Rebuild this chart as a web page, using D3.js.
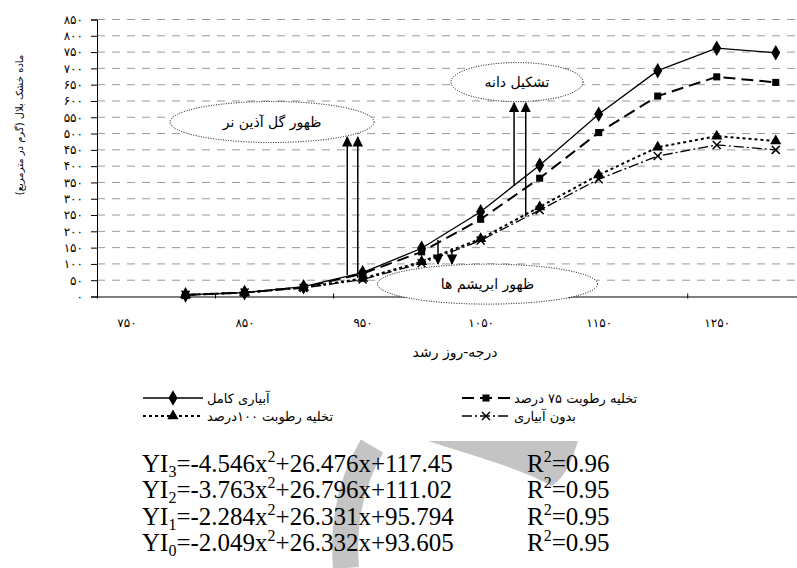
<!DOCTYPE html>
<html><head><meta charset="utf-8">
<script src="https://cdn.jsdelivr.net/npm/d3@7/dist/d3.min.js"></script>
<style>body{margin:0;background:#fff}svg{display:block}</style>
</head><body>
<svg id="c" width="797" height="568"></svg>
<script>
// ---- data ----
const gdd = [800, 850, 900, 950, 1000, 1050, 1100, 1150, 1200, 1250, 1300];
const fullIrrigation = [5, 12, 30, 73, 148, 260, 403, 559, 693, 762, 748];
const deficit75 = [5, 12, 28, 70, 137, 237, 363, 503, 615, 674, 657];
const deficit100 = [5, 12, 28, 55, 107, 177, 275, 373, 458, 492, 477];
const noIrrigation = [5, 12, 26, 52, 102, 172, 265, 360, 431, 465, 450];
const seriesNames = ["آبیاری کامل", "تخلیه رطوبت ۷۵ درصد", "تخلیه رطوبت ۱۰۰درصد", "بدون آبیاری"];
const xTickLabels = [750, 850, 950, 1050, 1150, 1250];
const yTicks = d3.range(0, 851, 50);
const xTitle = "درجه-روز رشد";
const yTitle = "ماده خشک بلال (گرم در مترمربع)";
const equations = [
  {lhs:"3", a:"-4.546", b:"+26.476x+117.45", r2:"0.96"},
  {lhs:"2", a:"-3.763", b:"+26.796x+111.02", r2:"0.95"},
  {lhs:"1", a:"-2.284", b:"+26.331x+95.794", r2:"0.95"},
  {lhs:"0", a:"-2.049", b:"+26.332x+93.605", r2:"0.95"}
];
// annotations in data units
const notes = [
  {text:"ظهور گل آذین نر", cx:873.3, cy:535.5, arrows:[{x:937, y0:66, y1:489},{x:945.9, y0:57, y1:489}]},
  {text:"تشکیل دانه", cx:1080.8, cy:658, arrows:[{x:1078.3, y0:342, y1:594},{x:1088.2, y0:245, y1:594}]},
  {text:"ظهور ابریشم ها", cx:1055.8, cy:38, arrows:[{x:1013.9, y0:173, y1:100},{x:1025.7, y0:149, y1:100}]}
];

const fa = s => String(s).replace(/[0-9]/g, d => "۰۱۲۳۴۵۶۷۸۹"[+d]);

const svg = d3.select("#c");
const x = d3.scaleLinear().domain([725, 1318]).range([97, 797]);
const y = d3.scaleLinear().domain([0, 850]).range([296.5, 19.5]);
const FA = "DejaVu Sans, sans-serif";

// gridlines
svg.append("g").selectAll("line").data(yTicks.slice(1)).join("line")
  .attr("x1", 97).attr("x2", 797).attr("y1", d => y(d)).attr("y2", d => y(d))
  .attr("stroke", "#9a9a9a").attr("stroke-width", 1).attr("stroke-dasharray", "8,7");

// y axis
const ya = svg.append("g").attr("transform", "translate(97,0)")
  .call(d3.axisLeft(y).tickValues(yTicks).tickSize(6).tickPadding(8).tickFormat(fa));
ya.select(".domain").attr("stroke", "#000");
ya.selectAll("text").attr("font-family", FA).attr("font-size", 12).attr("fill", "#000");

// x axis: tick marks between, labels offset
const xa = svg.append("g").attr("transform", "translate(0,296.5)")
  .call(d3.axisBottom(x).tickValues(xTickLabels.map(v => v - 25)).tickSizeInner(5).tickSizeOuter(0).tickFormat(""));
xa.select(".domain").attr("stroke", "#000");
xa.selectAll(".tick line").attr("transform", "translate(0,-3)");
const xl = svg.append("g").attr("transform", "translate(0,296.5)")
  .call(d3.axisBottom(x).tickValues(xTickLabels).tickSize(0).tickPadding(22).tickFormat(fa));
xl.select(".domain").remove();
xl.selectAll("text").attr("font-family", FA).attr("font-size", 12).attr("fill", "#000");

// axis titles
svg.append("text").attr("x", 455).attr("y", 357).attr("text-anchor", "middle")
  .attr("font-family", FA).attr("font-size", 14).text(xTitle);
svg.append("text").attr("transform", "translate(23,125) rotate(-90)").attr("text-anchor", "middle")
  .attr("font-family", FA).attr("font-size", 10).text(yTitle);

// series
const series = [
  {vals: fullIrrigation, dash: null, w: 1.3, mk: "diamond"},
  {vals: deficit75, dash: "12,6", w: 2, mk: "square"},
  {vals: deficit100, dash: "3,3", w: 2, mk: "triangle"},
  {vals: noIrrigation, dash: "10,3,2,3", w: 1.3, mk: "x"}
];
const line = d3.line().x((d, i) => x(gdd[i])).y(d => y(d));
function marker(g, type, cx, cy) {
  if (type === "x") {
    g.append("path").attr("d", `M${cx-4},${cy-4}L${cx+4},${cy+4}M${cx-4},${cy+4}L${cx+4},${cy-4}`)
      .attr("stroke", "#000").attr("stroke-width", 1.5).attr("fill", "none");
    return;
  }
  const sym = {diamond: d3.symbolDiamond, square: d3.symbolSquare, triangle: d3.symbolTriangle}[type];
  const size = {diamond: 70, square: 50, triangle: 55}[type];
  g.append("path").attr("d", d3.symbol(sym, size)()).attr("transform", `translate(${cx},${cy})`).attr("fill", "#000");
}
series.forEach(s => {
  svg.append("path").datum(s.vals).attr("d", line).attr("fill", "none")
    .attr("stroke", "#000").attr("stroke-width", s.w).attr("stroke-dasharray", s.dash);
});
series.forEach(s => {
  const g = svg.append("g");
  s.vals.forEach((v, i) => marker(g, s.mk, x(gdd[i]), y(v)));
});

// ellipses then arrows
const defs = svg.append("defs");
defs.append("marker").attr("id", "ah").attr("viewBox", "0 0 10 10").attr("refX", 9).attr("refY", 5)
  .attr("markerWidth", 7).attr("markerHeight", 7).attr("orient", "auto-start-reverse")
  .append("path").attr("d", "M0,0L10,5L0,10z").attr("fill", "#000");
const ell = [{rx: 102, ry: 20.5}, {rx: 66, ry: 19.5}, {rx: 110, ry: 20}];
notes.forEach((n, i) => {
  svg.append("ellipse").attr("cx", x(n.cx)).attr("cy", y(n.cy)).attr("rx", ell[i].rx).attr("ry", ell[i].ry)
    .attr("fill", "#fff").attr("stroke", "#000").attr("stroke-width", 1).attr("stroke-dasharray", "1,1.5");
  svg.append("text").attr("x", x(n.cx)).attr("y", y(n.cy)).attr("dy", "0.35em").attr("text-anchor", "middle")
    .attr("font-family", FA).attr("font-size", 14).text(n.text);
});
notes.forEach(n => {
  n.arrows.forEach(a => {
    svg.append("line").attr("x1", x(a.x)).attr("x2", x(a.x)).attr("y1", y(a.y0)).attr("y2", y(a.y1))
      .attr("stroke", "#000").attr("stroke-width", 1.5).attr("marker-end", "url(#ah)");
  });
});

// legend
const legPos = [[143, 398], [462, 398], [143, 416], [462, 416]];
const legW = [60, 48, 60, 48];
series.forEach((s, i) => {
  const [lx, ly] = legPos[i];
  const g = svg.append("g");
  g.append("line").attr("x1", lx).attr("x2", lx + legW[i]).attr("y1", ly).attr("y2", ly)
    .attr("stroke", "#000").attr("stroke-width", s.w).attr("stroke-dasharray", s.dash);
  marker(g, s.mk, lx + legW[i] / 2, ly);
  g.append("text").attr("x", lx + legW[i] + 4).attr("y", ly).attr("dy", "0.35em")
    .attr("font-family", FA).attr("font-size", 13).text(seriesNames[i]);
});

// watermark
svg.append("path").attr("d", "M372,446 C352,480 342,520 346,568").attr("fill", "none")
  .attr("stroke", "#c4c4c4").attr("stroke-width", 26);
svg.append("path").attr("d", "M428,441 L578,441 C572,460 566,476 552,486 C520,468 470,455 428,441 Z")
  .attr("fill", "#c4c4c4");

// equations
const eq = svg.append("g").attr("font-family", "Liberation Serif, Times New Roman, serif").attr("font-size", 25).attr("fill", "#000");
equations.forEach((e, i) => {
  const yy = 472 + i * 26.3;
  const t = eq.append("text").attr("x", 142).attr("y", yy);
  t.append("tspan").text("YI");
  t.append("tspan").attr("font-size", 16).attr("dy", 5).text(e.lhs);
  t.append("tspan").attr("dy", -5).text("=" + e.a + "x");
  t.append("tspan").attr("font-size", 16).attr("dy", -10).text("2");
  t.append("tspan").attr("dy", 10).text(e.b);
  const r = eq.append("text").attr("x", 527).attr("y", yy);
  r.append("tspan").text("R");
  r.append("tspan").attr("font-size", 16).attr("dy", -10).text("2");
  r.append("tspan").attr("dy", 10).text("=" + e.r2);
});
</script>
</body></html>
